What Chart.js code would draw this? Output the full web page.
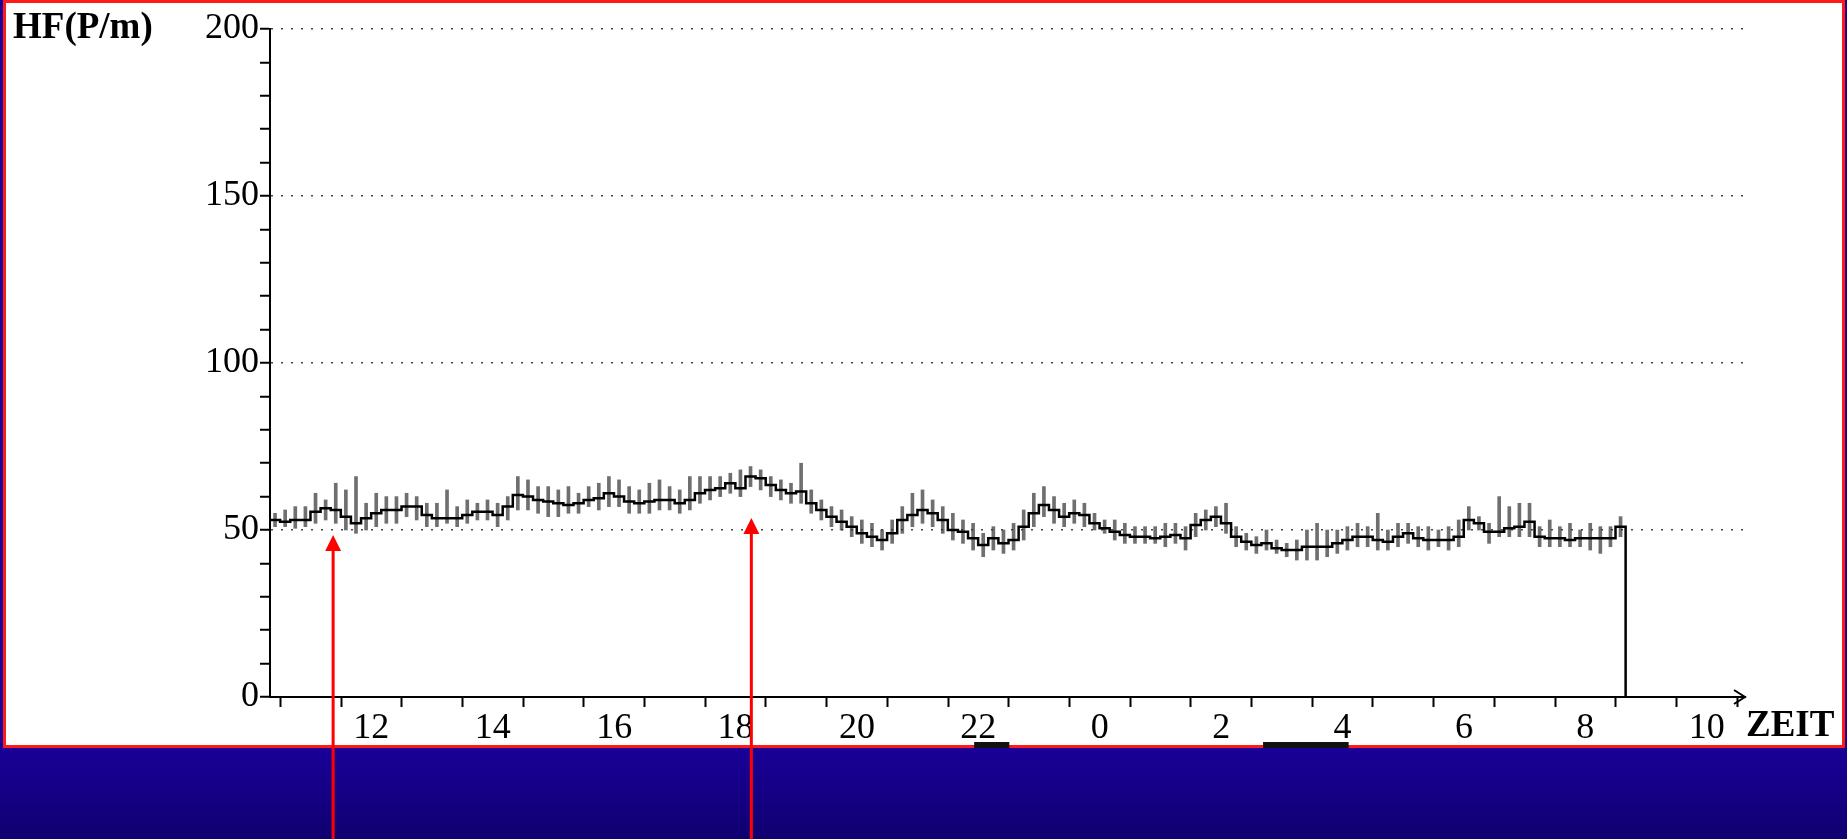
<!DOCTYPE html>
<html>
<head>
<meta charset="utf-8">
<title>HF(P/m)</title>
<script src="https://cdn.jsdelivr.net/npm/chart.js@4.4.1/dist/chart.umd.min.js"></script>
<style>
  html, body { margin: 0; padding: 0; background: #14008a; overflow: hidden; }
  #wrap { position: relative; width: 1847px; height: 839px; }
</style>
</head>
<body>
<div id="wrap"><canvas id="hfChart" width="1847" height="839"></canvas></div>
<script>
// 10-minute samples starting 10:20, hours run on past midnight (24 = 0h)
const startHour = 10.33;
const stepHours = 1 / 6;

// mean heart rate per sample (beats per minute)
const hf = [
  53, 52.5, 53, 53, 55.5, 56.5, 56, 54, 52, 53.5, 55, 56, 56, 57, 57, 54.5, 53.5, 53.5, 53.5, 54.5, 55.5, 55.5, 54.5,
  57, 60.5, 60, 59, 58.5, 58, 57.5, 58, 59, 59.5, 61, 60, 58.5, 58, 58.5, 59, 59, 58, 59, 61, 62, 62.5,
  64, 62.5, 66, 65.5, 63.5, 62, 61, 61.5, 58, 56, 54, 52.5, 51, 49, 48, 47, 49, 53, 54.5, 56, 55, 53,
  50, 49.5, 47.5, 45.5, 47.5, 46, 47, 51, 55, 57.5, 56, 54, 55, 54.5, 52, 50.5, 49.5, 48.5, 48, 48, 47.5, 48, 48.5,
  47.5, 51.5, 53, 54, 52, 48, 46.5, 45.5, 46, 44.5, 44, 44, 45, 45, 45, 46, 47, 48, 48, 47, 46.5, 48, 49,
  47.5, 47, 47, 47, 48, 53, 52, 49.5, 49.5, 50.5, 51, 52.5, 48, 47.5, 47.5, 47, 47.5, 47.5, 47.5, 47.5, 51
];
// highest value in each sample
const hfHigh = [
  55, 56, 57, 57, 61, 59, 64, 62, 66, 58, 61, 60, 60, 61, 60, 58, 58, 62, 57, 59, 58, 59, 58,
  60, 66, 65, 63, 63, 62, 63, 61, 63, 64, 66, 65, 63, 62, 64, 65, 63, 62, 66, 66, 66, 66,
  67, 68, 69, 68, 66, 65, 64, 70, 62, 59, 57, 56, 54, 53, 52, 50, 53, 57, 61, 62, 59, 57,
  55, 53, 52, 49, 51, 50, 52, 56, 61, 63, 60, 58, 59, 58, 55, 53, 53, 52, 51, 51, 51, 52, 52,
  51, 55, 56, 57, 58, 51, 49, 48, 50, 47, 46, 47, 50, 52, 50, 50, 51, 52, 51, 55, 50, 52, 52,
  51, 51, 50, 51, 53, 57, 54, 52, 60, 57, 58, 58, 51, 53, 51, 52, 50, 52, 51, 51, 54
];
// lowest value in each sample
const hfLow = [
  51, 51, 50.5, 51, 52, 53, 52, 50, 49, 50, 51, 52, 52, 54, 53, 51, 51, 52, 51, 52, 53, 53, 51,
  53, 56, 56, 55, 54, 54, 55, 55, 57, 56, 57, 57, 55, 55, 55, 56, 56, 55, 56, 58, 59, 60,
  61, 60, 63, 62, 60, 59, 58, 58, 55, 53, 51, 50, 48, 46, 45, 44, 46, 49, 51, 52, 51, 49,
  47, 46, 44, 42, 44, 43, 44, 47, 51, 54, 52, 51, 52, 51, 50, 49, 47, 46, 46, 46, 46, 45, 46,
  44, 48, 50, 51, 49, 45, 44, 43, 44, 43, 42, 41, 41, 41, 42, 43, 44, 45, 45, 44, 44, 45, 46,
  45, 44, 45, 44, 45, 50, 50, 46, 48, 48, 48, 48, 45, 45, 45, 45, 45, 44, 43, 45, 48
];

// x axis: continuous hours, labelled as clock time every 2 hours
const xMin = 10.33;
const xMax = 34.63;
const hourLabels = ['12', '14', '16', '18', '20', '22', '0', '2', '4', '6', '8', '10'];

// red arrows below the chart (time, heart rate at tip)
const arrowHours = [11.37, 18.26];
const arrowValues = [48.5, 53.6];

// black marks under the time axis
const markStart = [21.93, 26.69];
const markEnd = [22.51, 28.1];

const times = hf.map((v, i) => startHour + i * stepHours);
const endHour = startHour + hf.length * stepHours;

const linePoints = hf.map((v, i) => ({ x: times[i], y: v }));
linePoints.push({ x: endHour, y: hf[hf.length - 1] });
linePoints.push({ x: endHour, y: 0 });

const rangeBars = hf.map((v, i) => ({ x: times[i] + stepHours / 2, y: [hfLow[i], hfHigh[i]] }));

const serif = '"Liberation Serif", "Times New Roman", serif';

const framePlugin = {
  id: 'frame',
  beforeDraw(chart) {
    const { ctx, width, height } = chart;
    ctx.save();
    const g = ctx.createLinearGradient(0, 748, 0, height);
    g.addColorStop(0, '#1a0098');
    g.addColorStop(1, '#100070');
    ctx.fillStyle = g;
    ctx.fillRect(0, 0, width, height);
    ctx.fillStyle = '#ffffff';
    ctx.fillRect(3, 0, width - 5, 747);
    ctx.strokeStyle = '#ff1a1a';
    ctx.lineWidth = 3;
    ctx.strokeRect(4.5, 1.5, width - 8, 745);
    ctx.restore();
  },
  afterDraw(chart) {
    const { ctx } = chart;
    const xs = chart.scales.x;
    const ys = chart.scales.y;
    const y0 = ys.getPixelForValue(0);
    ctx.save();

    // arrow head of the time axis
    ctx.strokeStyle = '#000';
    ctx.lineWidth = 2;
    ctx.beginPath();
    ctx.moveTo(xs.right - 11, y0 - 7);
    ctx.lineTo(xs.right, y0);
    ctx.lineTo(xs.right - 11, y0 + 7);
    ctx.stroke();

    // axis titles
    ctx.fillStyle = '#000';
    ctx.textBaseline = 'alphabetic';
    ctx.font = 'bold 37px ' + serif;
    ctx.textAlign = 'left';
    ctx.fillText('HF(P/m)', 13, 38);
    ctx.fillText('ZEIT', xs.right + 1, 736);

    // marks under the axis
    ctx.fillStyle = '#111';
    markStart.forEach((s, i) => {
      const a = xs.getPixelForValue(s);
      const b = xs.getPixelForValue(markEnd[i]);
      ctx.fillRect(a, 742, b - a, 6);
    });

    // red arrows
    ctx.strokeStyle = '#ff0000';
    ctx.fillStyle = '#ff0000';
    ctx.lineWidth = 3;
    arrowHours.forEach((h, i) => {
      const x = xs.getPixelForValue(h);
      const tip = ys.getPixelForValue(arrowValues[i]);
      ctx.beginPath();
      ctx.moveTo(x, chart.height);
      ctx.lineTo(x, tip + 12);
      ctx.stroke();
      ctx.beginPath();
      ctx.moveTo(x, tip);
      ctx.lineTo(x - 8, tip + 16);
      ctx.lineTo(x + 8, tip + 16);
      ctx.closePath();
      ctx.fill();
    });
    ctx.restore();
  }
};

const ctx = document.getElementById('hfChart');

new Chart(ctx, {
  type: 'line',
  data: {
    datasets: [
      {
        type: 'line',
        label: 'HF',
        data: linePoints,
        borderColor: '#000',
        borderWidth: 2.5,
        pointRadius: 0,
        stepped: 'before',
        fill: false,
        order: 0
      },
      {
        type: 'bar',
        label: 'Bereich',
        data: rangeBars,
        backgroundColor: 'rgba(50, 50, 50, 0.7)',
        borderWidth: 0,
        barThickness: 3,
        grouped: false,
        order: 1
      }
    ]
  },
  options: {
    responsive: false,
    animation: false,
    layout: { padding: { left: 0, top: 29, right: 102, bottom: 0 } },
    plugins: { legend: { display: false }, tooltip: { enabled: false } },
    scales: {
      x: {
        type: 'linear',
        min: xMin,
        max: xMax,
        offset: false,
        afterFit: (s) => { s.height = 142; },
        ticks: {
          stepSize: 1,
          includeBounds: false,
          autoSkip: false,
          maxRotation: 0,
          minRotation: 0,
          padding: 0,
          color: '#000',
          font: { family: serif, size: 36 },
          callback: (v) => (v % 2 === 0 ? hourLabels[(v - 12) / 2] : '')
        },
        grid: {
          drawOnChartArea: false,
          tickLength: 10,
          tickColor: '#000',
          tickWidth: 2
        },
        border: { color: '#000', width: 2 }
      },
      y: {
        min: 0,
        max: 200,
        afterFit: (s) => { s.width = 270; },
        ticks: {
          stepSize: 10,
          autoSkip: false,
          padding: 1,
          color: '#000',
          font: { family: serif, size: 36 },
          callback: (v) => (v % 50 === 0 ? String(v) : '')
        },
        grid: {
          color: (c) => (c.tick && c.tick.value % 50 === 0 && c.tick.value > 0 ? '#444' : 'rgba(0,0,0,0)'),
          lineWidth: 1.5,
          tickLength: 10,
          tickColor: '#000',
          tickWidth: 2
        },
        border: { color: '#000', width: 2, dash: [2, 8] }
      }
    }
  },
  plugins: [framePlugin]
});
</script>
</body>
</html>
